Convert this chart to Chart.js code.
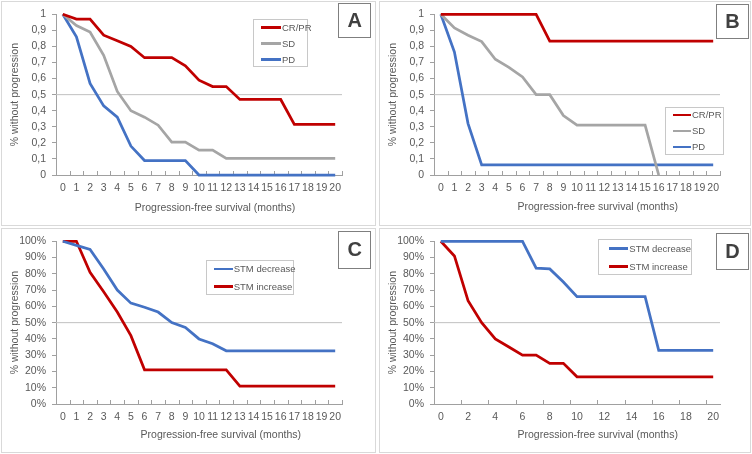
<!DOCTYPE html>
<html>
<head>
<meta charset="utf-8">
<script src="https://cdn.jsdelivr.net/npm/chart.js@4.4.1/dist/chart.umd.min.js"></script>
<style>
  body { margin: 0; background: #fff; width: 752px; height: 454px; position: relative; overflow: hidden;
         font-family: "Liberation Sans", Arial, sans-serif; color: #595959; }
  .panel { position: absolute; box-sizing: border-box; border: 1px solid #d9d9d9; background: #fff; }
  .panel canvas { position: absolute; left: 0; top: 0; }
  .legend { position: absolute; box-sizing: border-box; border: 1px solid #c8c8c8; background: #fff; }
  .legend .row { position: absolute; display: flex; align-items: center; height: 12px; font-size: 9.5px; white-space: nowrap; }
  .legend .swatch { display: inline-block; height: 2.5px; margin-right: 1px; }
  .letter { position: absolute; box-sizing: border-box; border: 1px solid #7f7f7f; background: #fff;
            display: flex; align-items: center; justify-content: center; font-weight: bold; font-size: 20px; color: #404040; }
  .xtitle { position: absolute; transform: translate(-50%, -50%); font-size: 10.5px; white-space: nowrap; }
</style>
</head>
<body>
<div class="panel" id="pA" style="left:1px;top:1px;width:375px;height:225px"><canvas id="cA"></canvas></div>
<div class="panel" id="pB" style="left:379px;top:1px;width:372px;height:225px"><canvas id="cB"></canvas></div>
<div class="panel" id="pC" style="left:1px;top:228px;width:375px;height:225px"><canvas id="cC"></canvas></div>
<div class="panel" id="pD" style="left:379px;top:228px;width:372px;height:225px"><canvas id="cD"></canvas></div>
<script>
// x axis: months 0..20
const months = [0, 1, 2, 3, 4, 5, 6, 7, 8, 9, 10, 11, 12, 13, 14, 15, 16, 17, 18, 19, 20];
const evenMonths = [0, 2, 4, 6, 8, 10, 12, 14, 16, 18, 20];
const xMin = -0.5, xMax = 20.5;

// A: fraction without progression by response
const aCrPr = [1, 0.97, 0.97, 0.87, 0.835, 0.80, 0.73, 0.73, 0.73, 0.68, 0.59, 0.55, 0.55, 0.47, 0.47, 0.47, 0.47, 0.315, 0.315, 0.315, 0.315];
const aSd = [1, 0.93, 0.89, 0.745, 0.52, 0.40, 0.36, 0.31, 0.205, 0.205, 0.155, 0.155, 0.103, 0.103, 0.103, 0.103, 0.103, 0.103, 0.103, 0.103, 0.103];
const aPd = [1, 0.86, 0.57, 0.43, 0.36, 0.18, 0.09, 0.09, 0.09, 0.09, 0, 0, 0, 0, 0, 0, 0, 0, 0, 0, 0];

// B
const bCrPr = [1, 1, 1, 1, 1, 1, 1, 1, 0.833, 0.833, 0.833, 0.833, 0.833, 0.833, 0.833, 0.833, 0.833, 0.833, 0.833, 0.833, 0.833];
const bSd = [1, 0.915, 0.87, 0.83, 0.72, 0.67, 0.61, 0.50, 0.50, 0.37, 0.31, 0.31, 0.31, 0.31, 0.31, 0.31, 0];
const bPd = [1, 0.765, 0.32, 0.063, 0.063, 0.063, 0.063, 0.063, 0.063, 0.063, 0.063, 0.063, 0.063, 0.063, 0.063, 0.063, 0.063, 0.063, 0.063, 0.063, 0.063];

// C: percent without progression by STM change
const cDecrease = [100, 97.5, 95, 83, 70, 62, 59.5, 56.5, 50, 47, 40, 37, 32.7, 32.7, 32.7, 32.7, 32.7, 32.7, 32.7, 32.7, 32.7];
const cIncrease = [100, 100, 81, 69, 56.5, 42, 21, 21, 21, 21, 21, 21, 21, 11, 11, 11, 11, 11, 11, 11, 11];

// D
const dDecrease = [100, 100, 100, 100, 100, 100, 100, 83.5, 83, 75, 66, 66, 66, 66, 66, 66, 33, 33, 33, 33, 33];
const dIncrease = [100, 91, 63.5, 50, 40, 35, 30, 30, 25, 25, 16.7, 16.7, 16.7, 16.7, 16.7, 16.7, 16.7, 16.7, 16.7, 16.7, 16.7];

const RED = '#c00000', GREY = '#a5a5a5', BLUE = '#4472c4';
const axisColor = '#a0a0a0';
const textColor = '#595959';
const fontFamily = '"Liberation Sans", Arial, sans-serif';

// little upward tick marks between the month labels, like the original
const halfTicks = {
  id: 'halfTicks',
  beforeDatasetsDraw(chart, args, opts) {
    const { ctx, chartArea, scales: { x } } = chart;
    ctx.save();
    ctx.strokeStyle = axisColor;
    ctx.lineWidth = 1;
    for (let v = x.min; v <= x.max + 1e-9; v += opts.step) {
      const px = Math.round(x.getPixelForValue(v)) + 0.5;
      ctx.beginPath();
      ctx.moveTo(px, chartArea.bottom);
      ctx.lineTo(px, chartArea.bottom - 4);
      ctx.stroke();
    }
    ctx.restore();
  }
};

function fmtFraction(v) {
  return String(Number(v.toFixed(1))).replace('.', ',');
}
function fmtPercent(v) {
  return Math.round(v) + '%';
}

function buildPanel(cfg) {
  const panel = document.getElementById(cfg.panel);
  const canvas = panel.querySelector('canvas');
  const W = panel.clientWidth, H = panel.clientHeight;
  canvas.width = W;
  canvas.height = H;

  const datasets = cfg.series.map(s => ({
    label: s.label,
    data: s.values.map((v, i) => ({ x: months[i], y: v })),
    borderColor: s.color,
    borderWidth: 2.75,
    pointRadius: 0,
    tension: 0,
    fill: false,
    clip: false
  }));
  // 50% reference line
  datasets.push({
    label: 'median',
    data: [{ x: xMin, y: cfg.ref }, { x: xMax, y: cfg.ref }],
    borderColor: '#c0c0c0',
    borderWidth: 1,
    pointRadius: 0,
    clip: false
  });

  new Chart(canvas, {
    type: 'line',
    data: { datasets },
    options: {
      responsive: false,
      animation: false,
      devicePixelRatio: 1,
      layout: { padding: { left: 0, top: cfg.top, right: W - 340, bottom: cfg.bottom } },
      plugins: {
        legend: { display: false },
        tooltip: { enabled: false },
        halfTicks: { step: cfg.tickStep }
      },
      scales: {
        x: {
          type: 'linear',
          min: xMin,
          max: xMax,
          afterBuildTicks: s => { s.ticks = cfg.xLabels.map(v => ({ value: v })); },
          afterFit: s => { s.height = 22; },
          ticks: { autoSkip: false, maxRotation: 0, padding: 7, color: textColor, font: { family: fontFamily, size: 10.5 } },
          grid: { drawOnChartArea: false, drawTicks: false },
          border: { color: axisColor }
        },
        y: {
          min: 0,
          max: cfg.yMax,
          afterFit: s => { s.width = 54; },
          ticks: { stepSize: cfg.yStep, callback: cfg.fmt, padding: 6, color: textColor, font: { family: fontFamily, size: 10.5 } },
          grid: { drawOnChartArea: false, drawTicks: true, tickLength: 4, tickColor: axisColor },
          border: { color: axisColor },
          title: { display: true, text: '% without progression', color: textColor, padding: { top: 6.7, bottom: 0 },
                   font: { family: fontFamily, size: 10.5 } }
        }
      }
    },
    plugins: [halfTicks]
  });

  // boxed legend inside the plot
  const lg = cfg.legend;
  const box = document.createElement('div');
  box.className = 'legend';
  Object.assign(box.style, { left: lg.left + 'px', top: lg.top + 'px', width: lg.width + 'px', height: lg.height + 'px' });
  cfg.series.forEach((s, i) => {
    const row = document.createElement('div');
    row.className = 'row';
    row.style.left = lg.inset + 'px';
    row.style.top = (lg.first + i * lg.gap - 7) + 'px';
    const sw = document.createElement('span');
    sw.className = 'swatch';
    sw.style.width = lg.len + 'px';
    sw.style.background = s.color;
    const tx = document.createElement('span');
    tx.textContent = s.label;
    row.appendChild(sw);
    row.appendChild(tx);
    box.appendChild(row);
  });
  panel.appendChild(box);

  // panel letter
  const lt = document.createElement('div');
  lt.className = 'letter';
  lt.textContent = cfg.letter.text;
  Object.assign(lt.style, { left: cfg.letter.left + 'px', top: cfg.letter.top + 'px', width: '33px', height: cfg.letter.height + 'px' });
  panel.appendChild(lt);

  // x axis title
  const xt = document.createElement('div');
  xt.className = 'xtitle';
  xt.textContent = 'Progression-free survival (months)';
  xt.style.left = cfg.xTitle.x + 'px';
  xt.style.top = cfg.xTitle.y + 'px';
  panel.appendChild(xt);
}

buildPanel({
  panel: 'pA', top: 10, bottom: 28, yMax: 1, yStep: 0.1, fmt: fmtFraction, ref: 0.5,
  xLabels: months, tickStep: 1,
  series: [
    { label: 'CR/PR', values: aCrPr, color: RED },
    { label: 'SD', values: aSd, color: GREY },
    { label: 'PD', values: aPd, color: BLUE }
  ],
  legend: { left: 250.7, top: 17, width: 55, height: 48, first: 8.7, gap: 16, inset: 7.3, len: 20 },
  letter: { text: 'A', left: 336.3, top: 1.3, height: 35 },
  xTitle: { x: 213, y: 205.3 }
});

buildPanel({
  panel: 'pB', top: 10, bottom: 28, yMax: 1, yStep: 0.1, fmt: fmtFraction, ref: 0.5,
  xLabels: months, tickStep: 1,
  series: [
    { label: 'CR/PR', values: bCrPr, color: RED },
    { label: 'SD', values: bSd, color: GREY },
    { label: 'PD', values: bPd, color: BLUE }
  ],
  legend: { left: 285, top: 104.7, width: 59, height: 48.3, first: 8.3, gap: 15.9, inset: 6.7, len: 18.3 },
  letter: { text: 'B', left: 336, top: 2, height: 35 },
  xTitle: { x: 217.7, y: 204 }
});

buildPanel({
  panel: 'pC', top: 11, bottom: 26, yMax: 100, yStep: 10, fmt: fmtPercent, ref: 50,
  xLabels: months, tickStep: 1,
  series: [
    { label: 'STM decrease', values: cDecrease, color: BLUE },
    { label: 'STM increase', values: cIncrease, color: RED }
  ],
  legend: { left: 204, top: 31.3, width: 88.3, height: 34.4, first: 8.7, gap: 17.7, inset: 7.3, len: 18.4 },
  letter: { text: 'C', left: 336.3, top: 2, height: 37.5 },
  xTitle: { x: 218.8, y: 204.7 }
});

buildPanel({
  panel: 'pD', top: 11, bottom: 26, yMax: 100, yStep: 10, fmt: fmtPercent, ref: 50,
  xLabels: evenMonths, tickStep: 2,
  series: [
    { label: 'STM decrease', values: dDecrease, color: BLUE },
    { label: 'STM increase', values: dIncrease, color: RED }
  ],
  legend: { left: 218.3, top: 10.3, width: 93.4, height: 35.7, first: 9, gap: 18.4, inset: 10, len: 19 },
  letter: { text: 'D', left: 336, top: 3.5, height: 37.5 },
  xTitle: { x: 217.7, y: 204.7 }
});
</script>
</body>
</html>
